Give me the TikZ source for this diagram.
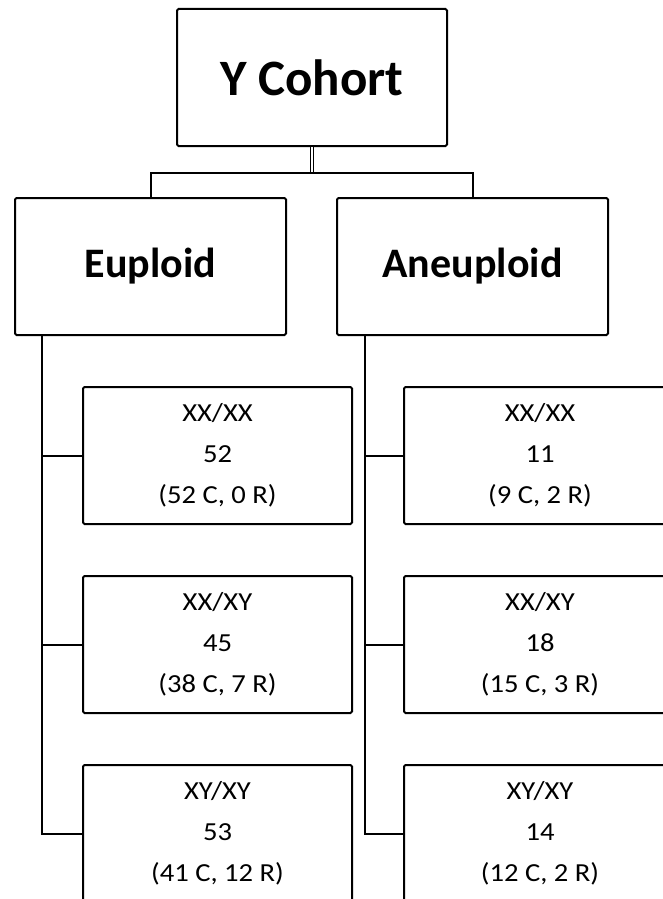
\documentclass[tikz,border=0pt]{standalone}
\usepackage{fontspec}
\setmainfont{Carlito}
\newfontfamily\leaffont{Carlito}[FakeStretch=1.1]
\usepackage{tikz}
\usetikzlibrary{calc}
\newcommand{\leaftext}[3]{#1\\#2\\(#3)}
\tikzset{
  box/.style={draw, line width=2pt, rounded corners=1.5pt, align=center, inner sep=0pt},
  root/.style={box, minimum width=270pt, minimum height=137pt, font=\fontsize{51}{60}\selectfont\bfseries},
  grp/.style={box, minimum width=271pt, minimum height=137pt, font=\fontsize{42}{50}\selectfont\bfseries},
  leaf/.style={box, minimum height=137pt, font=\leaffont\fontsize{26}{41}\selectfont},
  link/.style={line width=2pt}
}

\begin{document}
\begin{tikzpicture}[x=1pt,y=-1pt]
\useasboundingbox (0,0) rectangle (663,899);
\path (312,77.5) node[root] (yc) {Y Cohort};
\path (150.5,266.5) node[grp] (eu) {Euploid};
\path (472.5,266.5) node[grp] (an) {Aneuploid};
% left column
\path (217.5,455.5) node[leaf, minimum width=269pt] (eu1) {\leaftext{XX/XX}{52}{52 C, 0 R}};
\path (217.5,644.5) node[leaf, minimum width=269pt] (eu2) {\leaftext{XX/XY}{45}{38 C, 7 R}};
\path (217.5,833.5) node[leaf, minimum width=269pt] (eu3) {\leaftext{XY/XY}{53}{41 C, 12 R}};
% right column
\path (540,455.5) node[leaf, minimum width=272pt] (an1) {\leaftext{XX/XX}{11}{9 C, 2 R}};
\path (540,644.5) node[leaf, minimum width=272pt] (an2) {\leaftext{XX/XY}{18}{15 C, 3 R}};
\path (540,833.5) node[leaf, minimum width=272pt] (an3) {\leaftext{XY/XY}{14}{12 C, 2 R}};
\draw[line width=1.2pt, double, double distance=1.6pt] (yc.south) -- ++(0,26) coordinate (split);
\draw[link] (eu.north) |- (split) -| (an.north);
\path (eu.south west) ++(28,0) coordinate (eut);
\path (an.south west) ++(29,0) coordinate (ant);
\foreach \g/\t in {eu/eut, an/ant} {
  \draw[link] (\t) |- (\g3.west);
  \foreach \i in {1,2}
    \draw[link] (\g\i.west) -- (\g\i.west -| \t);
}
\end{tikzpicture}
\end{document}
